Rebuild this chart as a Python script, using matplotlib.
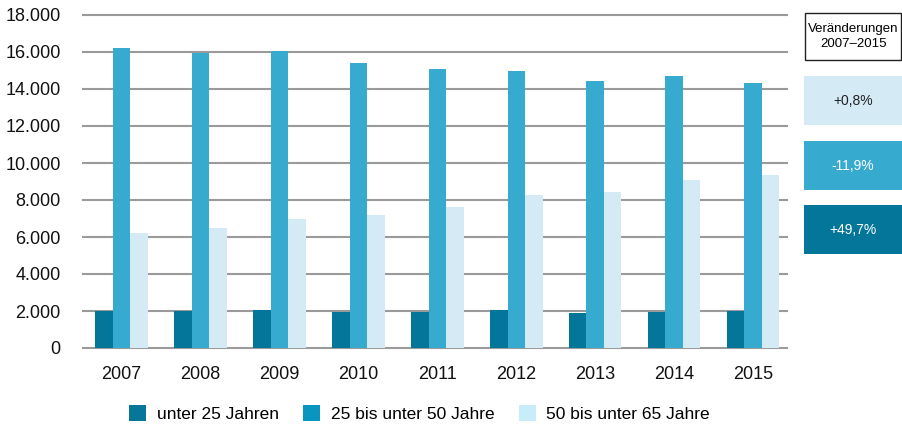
import matplotlib

matplotlib.use("Agg")
import matplotlib.pyplot as plt
import numpy as np
from matplotlib.patches import Patch, Rectangle
from matplotlib.ticker import FuncFormatter

plt.rcParams["font.family"] = ["Liberation Sans", "DejaVu Sans"]

years = ["2007", "2008", "2009", "2010", "2011", "2012", "2013", "2014", "2015"]
unter_25 = [1985, 1985, 2040, 1970, 1970, 2030, 1915, 1970, 2000]
bis_50 = [16230, 15930, 16050, 15390, 15060, 14970, 14410, 14680, 14320]
bis_65 = [6240, 6510, 6950, 7180, 7600, 8260, 8420, 9070, 9340]
series_labels = ["unter 25 Jahren", "25 bis unter 50 Jahre", "50 bis unter 65 Jahre"]
change_header = "Veränderungen\n2007–2015"
change_values = ["+0,8%", "-11,9%", "+49,7%"]

DARK = "#04769a"
MID = "#36aacf"
LIGHT = "#d4eaf5"
legend_colors = ["#067799", "#0896c0", "#c8edfa"]

fig = plt.figure(figsize=(9.02, 4.26), dpi=100)
ax = fig.add_axes([83 / 902, 1 - 348 / 426, (787 - 83) / 902, 333 / 426])

x = np.arange(len(years))
w = 0.222
ax.bar(x - w, unter_25, width=w, color=DARK, zorder=3)
ax.bar(x, bis_50, width=w, color=MID, zorder=3)
ax.bar(x + w, bis_65, width=w, color=LIGHT, zorder=3)

ax.set_ylim(0, 18000)
ax.set_xlim(-0.49, 8.43)
ax.set_yticks(np.arange(0, 18001, 2000))
ax.yaxis.set_major_formatter(FuncFormatter(lambda v, _: f"{int(v):,}".replace(",", ".")))
ax.set_xticks(x)
ax.set_xticklabels(years)
ax.grid(axis="y", color="#9a9a9a", linewidth=1.5, zorder=0)
ax.set_axisbelow(True)
for side in ["top", "right", "left", "bottom"]:
    ax.spines[side].set_visible(False)
ax.tick_params(axis="y", length=0, pad=16, labelsize=13, labelcolor="#111111")
ax.tick_params(axis="x", length=0, pad=13, labelsize=13, labelcolor="#111111")
for gl in ax.get_ygridlines():
    gl.set_clip_on(False)

handles = [Patch(facecolor=c, edgecolor="none") for c in legend_colors]
fig.legend(handles, series_labels, loc="center", bbox_to_anchor=(0.465, 0.03), ncol=3,
           frameon=False, fontsize=12.5, handlelength=1.0, handleheight=1.1,
           handletextpad=0.6, columnspacing=1.4)

# change boxes on the right
box_ax = fig.add_axes([0, 0, 1, 1])
box_ax.set_xlim(0, 902)
box_ax.set_ylim(426, 0)
box_ax.axis("off")
box_ax.add_patch(Rectangle((805, 13), 96, 47, facecolor="white", edgecolor="#222222", linewidth=1.0))
box_ax.text(853.5, 36.5, change_header, ha="center", va="center", fontsize=9.5, linespacing=1.25)
box_colors = [LIGHT, MID, DARK]
text_colors = ["#222222", "white", "white"]
for i, (val, bc, tc) in enumerate(zip(change_values, box_colors, text_colors)):
    top = 76 + i * 64.5
    box_ax.add_patch(Rectangle((804, top), 98, 49, facecolor=bc, edgecolor="none"))
    box_ax.text(853, top + 25, val, ha="center", va="center", fontsize=10, color=tc)

fig.savefig("out.png", dpi=100)
